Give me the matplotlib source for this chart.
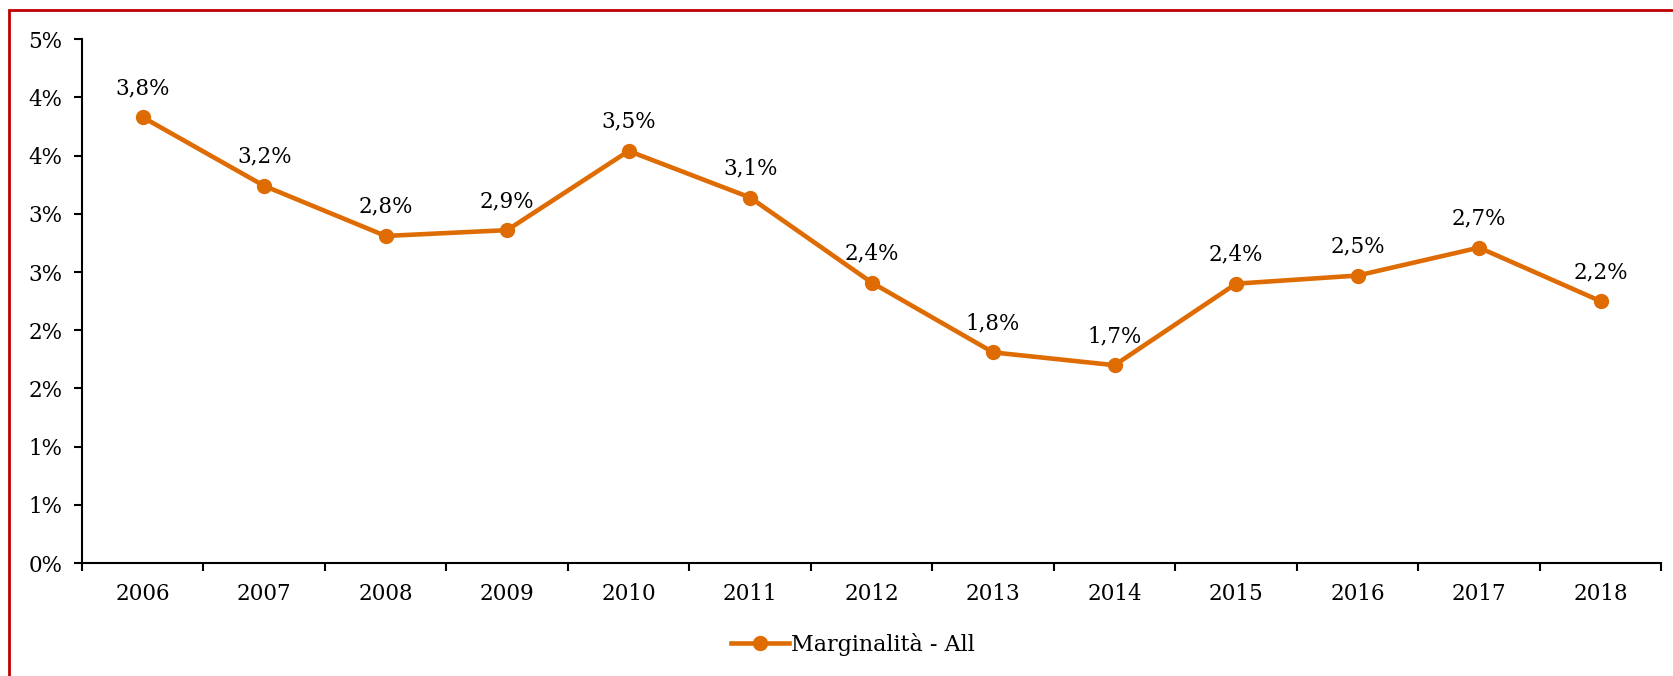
import matplotlib.pyplot as plt
from matplotlib.patches import Rectangle
import numpy as np

years = ['2006', '2007', '2008', '2009', '2010', '2011', '2012',
         '2013', '2014', '2015', '2016', '2017', '2018']
margin = [3.83, 3.24, 2.81, 2.86, 3.54, 3.14, 2.41, 1.81, 1.70, 2.40, 2.47, 2.71, 2.25]
point_labels = ['3,8%', '3,2%', '2,8%', '2,9%', '3,5%', '3,1%', '2,4%',
                '1,8%', '1,7%', '2,4%', '2,5%', '2,7%', '2,2%']
y_ticks = [0, 0.5, 1.0, 1.5, 2.0, 2.5, 3.0, 3.5, 4.0, 4.5]
y_tick_labels = ['0%', '1%', '1%', '2%', '2%', '3%', '3%', '4%', '4%', '5%']
series_name = 'Marginalità - All'

orange = '#DF6C02'
plt.rcParams['font.family'] = ['DejaVu Serif']

fig = plt.figure(figsize=(16.73, 6.76), dpi=100)
ax = fig.add_axes([0.049, 0.167, 0.944, 0.775])

x = np.arange(len(years))
ax.plot(x, margin, color=orange, linewidth=3.3, marker='o', markersize=10,
        label=series_name)

for xi, yi, lab in zip(x, margin, point_labels):
    ax.annotate(lab, (xi, yi), xytext=(0, 13), textcoords='offset points',
                ha='center', va='bottom', fontsize=15.5, color='black')

ax.set_xlim(-0.5, len(years) - 0.5)
ax.set_ylim(0, 4.5)
ax.set_yticks(y_ticks)
ax.set_yticklabels(y_tick_labels)

# category labels centred, tick marks between categories
ax.set_xticks(np.arange(-0.5, len(years)), minor=False)
ax.set_xticklabels([''] * (len(years) + 1))
ax.set_xticks(x, minor=True)
ax.set_xticklabels(years, minor=True)
ax.tick_params(axis='x', which='minor', length=0, pad=14, labelsize=15.5)
ax.tick_params(axis='x', which='major', length=6, width=1.5, direction='out')
ax.tick_params(axis='y', length=6, width=1.5, labelsize=15.5, pad=8)

for side in ['top', 'right']:
    ax.spines[side].set_visible(False)
for side in ['left', 'bottom']:
    ax.spines[side].set_linewidth(1.5)

fig.legend(loc='center', bbox_to_anchor=(0.51, 0.047), frameon=False,
           fontsize=16, handlelength=2.6, handletextpad=0.1)

# red frame, cut off on the right and bottom
fig.patches.append(Rectangle((9 / 1673, -0.1), 1.2, 1 - 10 / 676 + 0.1,
                             transform=fig.transFigure, fill=False,
                             edgecolor='#C00000', linewidth=2))

fig.savefig('out.png', dpi=100)
